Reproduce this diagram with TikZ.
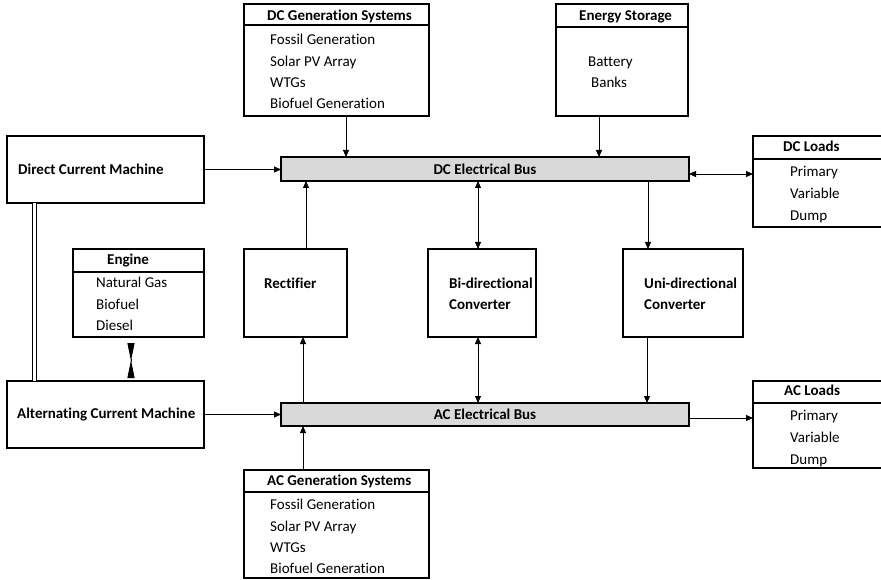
\documentclass[tikz,border=0pt]{standalone}
\usepackage{fontspec}
\setmainfont{Carlito}[Ligatures=NoCommon]
\usetikzlibrary{arrows.meta}

\tikzset{
    blk/.style={draw, line width=1.6pt, outer sep=0pt, inner sep=0pt, anchor=north west},
    bus/.style={blk, fill=gray!30, font=\bfseries},
    txt/.style={anchor=west, inner sep=0pt, text height=10.5pt, text depth=3pt},
    btxt/.style={txt, font=\bfseries},
    flow/.style={line width=0.8pt, -{Triangle[length=7pt,width=6pt]}},
    flow2/.style={line width=0.8pt, {Triangle[length=7pt,width=6pt]}-{Triangle[length=7pt,width=6pt]}},
    hourglass/.style={line width=0.8pt, {Triangle[reversed,length=18pt,width=7pt]}-{Triangle[reversed,length=18pt,width=7pt]}}
}

\begin{document}
\fontsize{15}{18}\selectfont
\begin{tikzpicture}[x=1pt, y=-1pt]
                \useasboundingbox (0,0) rectangle (881,580);
                \clip (0,0) rectangle (881,580);
                % dc generation
                \node[blk, minimum width=185pt, minimum height=21pt] (dcgenhd) at (244,4) {};
                \node[blk, minimum width=185pt, minimum height=91pt] (dcgen) at (dcgenhd.south west) {};
                \node[btxt] (dcgentitle) at (267,17) {DC Generation Systems};
                \foreach \t [count=\i from 0] in {Fossil Generation, Solar PV Array, WTGs, Biofuel Generation}
                    {\node[txt] (dcgen\i) at (270, 41+21.4*\i) {\t};}
                % storage
                \node[blk, minimum width=132pt, minimum height=23pt] (storehd) at (556,4) {};
                \node[blk, minimum width=132pt, minimum height=89pt] (store) at (storehd.south west) {};
                \node[btxt] (storetitle) at (579,17) {Energy Storage};
                \node[txt] (store0) at (588,63) {Battery};
                \node[txt] (store1) at (591,84) {Banks};
                % dc loads
                \node[blk, minimum width=150pt, minimum height=23pt] (dcloadhd) at (753,136) {};
                \node[blk, minimum width=150pt, minimum height=68pt] (dcload) at (dcloadhd.south west) {};
                \node[btxt] (dcloadtitle) at (783,148) {DC Loads};
                \foreach \t [count=\i from 0] in {Primary, Variable, Dump}
                    {\node[txt] (dcload\i) at (790, 173+21.7*\i) {\t};}
                % engine
                \node[blk, minimum width=131pt, minimum height=23pt] (enginehd) at (73,249) {};
                \node[blk, minimum width=131pt, minimum height=65pt] (engine) at (enginehd.south west) {};
                \node[btxt] (enginetitle) at (107,261) {Engine};
                \foreach \t [count=\i from 0] in {Natural Gas, Biofuel, Diesel}
                    {\node[txt] (engine\i) at (96, 284+21.3*\i) {\t};}
                % ac loads
                \node[blk, minimum width=150pt, minimum height=22pt] (acloadhd) at (753,381) {};
                \node[blk, minimum width=150pt, minimum height=65pt] (acload) at (acloadhd.south west) {};
                \node[btxt] (acloadtitle) at (784,392) {AC Loads};
                \foreach \t [count=\i from 0] in {Primary, Variable, Dump}
                    {\node[txt] (acload\i) at (790, 417+21.7*\i) {\t};}
                % ac generation
                \node[blk, minimum width=185pt, minimum height=22pt] (acgenhd) at (244,470) {};
                \node[blk, minimum width=185pt, minimum height=86pt] (acgen) at (acgenhd.south west) {};
                \node[btxt] (acgentitle) at (267,482) {AC Generation Systems};
                \foreach \t [count=\i from 0] in {Fossil Generation, Solar PV Array, WTGs, Biofuel Generation}
                    {\node[txt] (acgen\i) at (270, 506+21.4*\i) {\t};}
                % machines
                \node[blk, minimum width=197pt, minimum height=67pt] (dcm) at (7,136) {};
                \node[btxt] (dcmtxt) at (18,171) {Direct Current Machine};
                \node[blk, minimum width=197pt, minimum height=67pt] (acm) at (7,381) {};
                \node[btxt] (acmtxt) at (17,415) {Alternating Current Machine};
                % converters
                \node[blk, minimum width=103pt, minimum height=88pt] (rect) at (244,249) {};
                \node[btxt] (recttxt) at (264,285) {Rectifier};
                \node[blk, minimum width=108pt, minimum height=88pt] (bidir) at (428,249) {};
                \node[btxt] (bidirtxt0) at (449,285) {Bi-directional};
                \node[btxt] (bidirtxt1) at (449,306) {Converter};
                \node[blk, minimum width=120pt, minimum height=88pt] (unidir) at (623,249) {};
                \node[btxt] (unidirtxt0) at (644,285) {Uni-directional};
                \node[btxt] (unidirtxt1) at (644,306) {Converter};
                % buses
                \node[bus, minimum width=408pt, minimum height=24pt] (dcbus) at (281,157) {DC Electrical Bus};
                \node[bus, minimum width=408pt, minimum height=23pt] (acbus) at (281,403) {AC Electrical Bus};
                % dc bus links
                \draw[flow] ([xshift=9.5pt]dcgen.south) -- ([xshift=9.5pt]dcgen.south |- dcbus.north);
                \draw[flow] ([xshift=-23pt]store.south) -- ([xshift=-23pt]store.south |- dcbus.north);
                \draw[flow] (dcm.east) -- (dcm.east -| dcbus.west);
                \draw[flow2] ([yshift=-5pt]dcbus.east) -- ([yshift=-5pt]dcbus.east -| dcload.west);
                \draw[flow] ([xshift=10.5pt]rect.north) -- ([xshift=10.5pt]rect.north |- dcbus.south);
                \draw[flow2] ([xshift=-4pt]bidir.north) -- ([xshift=-4pt]bidir.north |- dcbus.south);
                \draw[flow] ([xshift=-35pt]unidir.north |- dcbus.south) -- ([xshift=-35pt]unidir.north);
                % ac bus links
                \draw[flow] ([xshift=7.5pt]rect.south |- acbus.north) -- ([xshift=7.5pt]rect.south);
                \draw[flow2] ([xshift=-4pt]bidir.south) -- ([xshift=-4pt]bidir.south |- acbus.north);
                \draw[flow] ([xshift=-36pt]unidir.south) -- ([xshift=-36pt]unidir.south |- acbus.north);
                \draw[flow] (acm.east) -- (acm.east -| acbus.west);
                \draw[flow] ([yshift=-3.5pt]acbus.east) -- ([yshift=-3.5pt]acbus.east -| acload.west);
                \draw[flow] ([xshift=-33.5pt]acgenhd.north) -- ([xshift=-33.5pt]acgenhd.north |- acbus.south);
                % shaft and engine coupling
                \draw[double, double distance=2.5pt, line width=0.8pt] ([xshift=-71pt]dcm.south) -- ([xshift=-71pt]acm.north);
                \draw[hourglass] ([xshift=-7.5pt,yshift=-6pt]engine.south) -- ([xshift=-7.5pt,yshift=3pt]engine.south |- acm.north);
\end{tikzpicture}
\end{document}
